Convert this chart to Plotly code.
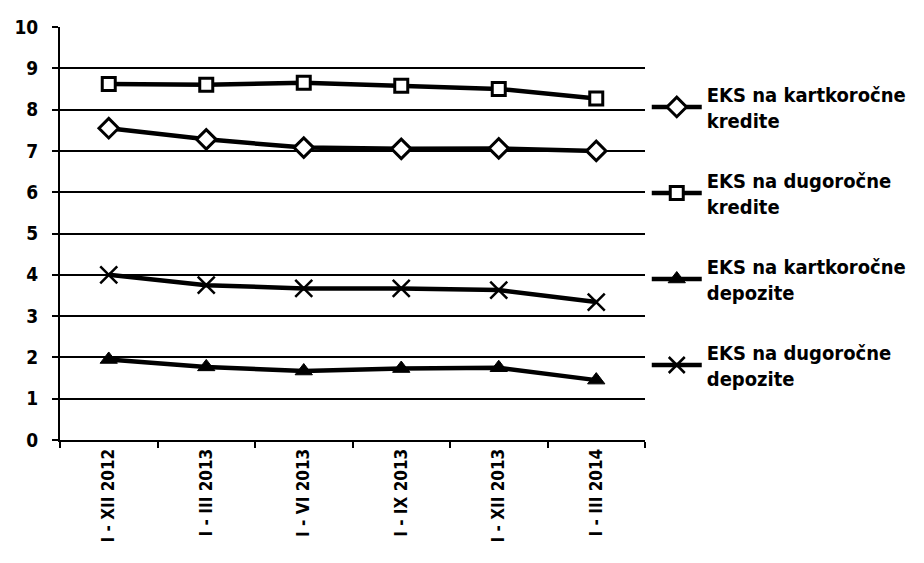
import plotly.graph_objects as go

categories = ["I - XII 2012", "I - III 2013", "I - VI 2013", "I - IX 2013", "I - XII 2013", "I - III 2014"]
kratk_krediti = [7.55, 7.28, 7.08, 7.05, 7.06, 7.0]
dugor_krediti = [8.62, 8.6, 8.65, 8.58, 8.5, 8.27]
kratk_depoziti = [1.95, 1.77, 1.67, 1.73, 1.75, 1.45]
dugor_depoziti = [4.0, 3.75, 3.67, 3.67, 3.63, 3.34]
names = ["EKS na kartkoročne<br>kredite", "EKS na dugoročne<br>kredite",
         "EKS na kartkoročne<br>depozite", "EKS na dugoročne<br>depozite"]
y_ticks = [0, 1, 2, 3, 4, 5, 6, 7, 8, 9, 10]

series = [kratk_krediti, dugor_krediti, kratk_depoziti, dugor_depoziti]
markers = [
    dict(symbol="diamond", size=15, color="white", line=dict(color="black", width=3)),
    dict(symbol="square", size=13, color="white", line=dict(color="black", width=3)),
    dict(symbol="triangle-up", size=15, color="black", line=dict(color="black", width=1)),
    dict(symbol="x-thin-open", size=17, color="black", line=dict(color="black", width=2.5)),
]

fig = go.Figure()
for i, (vals, name, mk) in enumerate(zip(series, names, markers)):
    fig.add_trace(go.Scatter(
        x=categories, y=vals, name=name, mode="lines+markers",
        line=dict(color="black", width=4.5), marker=mk,
        legendgroup=str(i),
    ))

fig.update_layout(
    width=924, height=563,
    margin=dict(l=52, r=287, t=19, b=131),
    paper_bgcolor="white", plot_bgcolor="white",
    font=dict(family="DejaVu Sans Condensed", color="black"),
    showlegend=True,
    legend=dict(x=1.003, y=0.885, xanchor="left", yanchor="top",
                font=dict(size=20, family="DejaVu Sans Condensed", color="black", weight="bold"),
                tracegroupgap=31, itemwidth=50, bgcolor="rgba(0,0,0,0)"),
)
fig.update_xaxes(
    type="category", showgrid=False, showline=True, linecolor="black", linewidth=2,
    ticks="outside", tickson="boundaries", ticklen=6, tickcolor="black", tickwidth=2,
    tickangle=-90, tickfont=dict(size=17, weight="bold", family="DejaVu Sans Condensed"),
    range=[-0.5, 5.5], automargin=False,
)
fig.update_yaxes(
    range=[0, 10], tickvals=y_ticks, showgrid=True, gridcolor="black", gridwidth=1.5,
    showline=True, linecolor="black", linewidth=2, ticks="outside", ticklen=6,
    tickcolor="black", tickwidth=2, zeroline=False, automargin=False,
    ticklabelstandoff=10,
    tickfont=dict(size=19, weight="bold", family="DejaVu Sans Condensed"),
)
fig.write_html("out.html")
